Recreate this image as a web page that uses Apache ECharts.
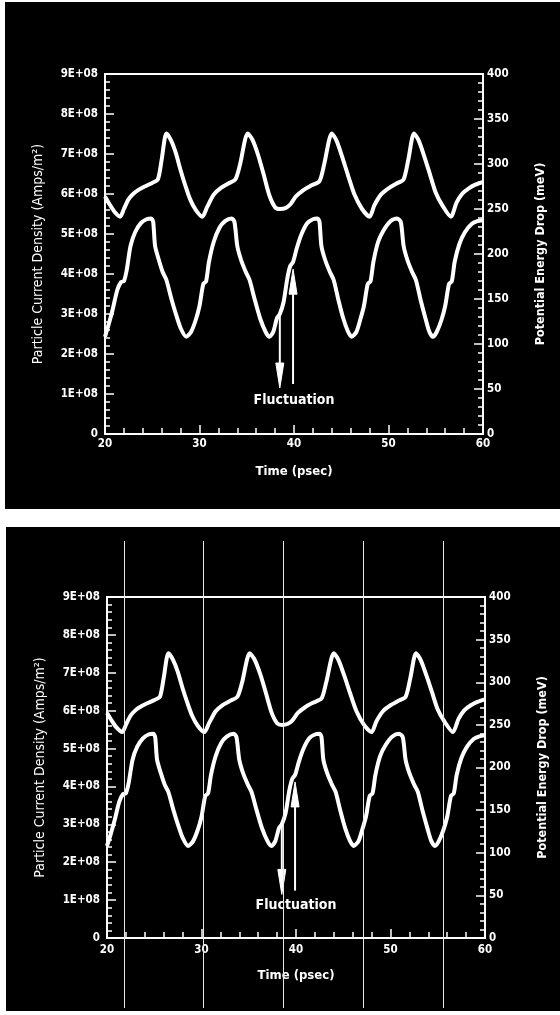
<!DOCTYPE html>
<html>
<head>
<meta charset="utf-8">
<script src="https://cdn.jsdelivr.net/npm/echarts@6/dist/echarts.min.js"></script>
<style>
  html, body { margin: 0; padding: 0; background: #fff; }
  #chart { width: 560px; height: 1015px; }
</style>
</head>
<body>
<div id="chart"></div>
<script>
// ---------------- data ----------------
const potentialTime = [20.0, 20.5, 21.0, 21.6, 22.0, 22.5, 23.0, 23.5, 24.2, 25.0, 25.6, 26.0, 26.5, 27.0, 27.5, 28.0, 28.5, 29.0, 29.6,
  30.3, 30.8, 31.5, 32.2, 33.0, 33.8, 34.3, 35.1, 35.6, 36.2, 36.8, 37.4, 38.0, 38.5, 39.1, 39.6,
  40.2, 41.0, 41.8, 42.7, 43.2, 44.0, 44.5, 45.1, 45.7, 46.4, 47.2, 48.0, 48.5, 49.2,
  50.0, 50.8, 51.6, 52.1, 52.7, 53.2, 53.8, 54.4, 55.0, 55.7, 56.6, 57.2, 57.8, 58.5, 59.2, 60.0];
const potentialMeV = [264, 255, 247, 241.5, 250, 261, 267, 271, 275, 279, 283, 305, 334, 326, 312, 293, 276, 261, 249,
  241.5, 252, 266, 273, 278, 283, 300, 334, 327, 310, 288, 265, 252, 250, 251, 255,
  264, 271, 276, 281, 300, 334, 326, 308, 288, 266, 250, 241.5, 254, 266,
  273, 278, 283, 305, 334, 326, 308, 288, 268, 254, 241.5, 257, 267, 273, 277, 280];

const currentTime = [20.0, 20.4, 20.8, 21.3, 21.7, 22.0, 22.3, 22.7, 23.2, 23.8, 24.4, 24.9, 25.1, 25.3, 25.7, 26.1, 26.5, 27.0, 27.5, 28.0, 28.6, 29.1, 29.6,
  30.0, 30.4, 30.7, 31.0, 31.5, 32.1, 32.7, 33.4, 33.7, 34.0, 34.4, 34.9, 35.3, 35.8, 36.4, 37.0, 37.4, 37.8, 38.2, 38.5, 38.9, 39.3, 39.6, 39.9,
  40.3, 40.8, 41.4, 42.0, 42.5, 42.7, 42.9, 43.3, 43.8, 44.2, 44.7, 45.2, 45.7, 46.1, 46.6, 47.0, 47.4, 47.8, 48.1, 48.4, 48.9, 49.5,
  50.2, 50.9, 51.3, 51.6, 52.0, 52.5, 52.9, 53.4, 53.9, 54.3, 54.7, 55.1, 55.6, 56.0, 56.4, 56.7, 57.0, 57.5, 58.1, 58.8, 59.4, 60.0];
const currentDensity = [2.43e8, 2.75e8, 3.1e8, 3.6e8, 3.8e8, 3.82e8, 4.1e8, 4.7e8, 5.05e8, 5.27e8, 5.37e8, 5.39e8, 5.3e8, 4.7e8, 4.35e8, 4.05e8, 3.85e8, 3.4e8, 3.0e8, 2.65e8, 2.43e8, 2.55e8, 2.85e8,
  3.2e8, 3.75e8, 3.82e8, 4.3e8, 4.8e8, 5.15e8, 5.32e8, 5.39e8, 5.3e8, 4.7e8, 4.35e8, 4.05e8, 3.85e8, 3.4e8, 2.9e8, 2.55e8, 2.43e8, 2.55e8, 2.9e8, 3.0e8, 3.3e8, 3.9e8, 4.2e8, 4.3e8,
  4.65e8, 5.0e8, 5.27e8, 5.37e8, 5.39e8, 5.3e8, 4.7e8, 4.35e8, 4.05e8, 3.85e8, 3.35e8, 2.9e8, 2.57e8, 2.43e8, 2.55e8, 2.85e8, 3.2e8, 3.75e8, 3.82e8, 4.3e8, 4.8e8, 5.1e8,
  5.32e8, 5.39e8, 5.3e8, 4.7e8, 4.35e8, 4.05e8, 3.85e8, 3.35e8, 2.9e8, 2.57e8, 2.43e8, 2.55e8, 2.85e8, 3.2e8, 3.75e8, 3.82e8, 4.3e8, 4.75e8, 5.05e8, 5.25e8, 5.32e8, 5.35e8];

const leftTickLabels = ['0', '1E+08', '2E+08', '3E+08', '4E+08', '5E+08', '6E+08', '7E+08', '8E+08', '9E+08'];
const rightTickLabels = ['0', '50', '100', '150', '200', '250', '300', '350', '400'];
const timeTickLabels = ['20', '30', '40', '50', '60'];

// annotation arrows: time, start value, end value (current-density units)
const arrowTimes = [38.5, 39.9];
const arrowFrom = [3.02e8, 1.25e8];
const arrowTo = [1.15e8, 4.12e8];
const annotationText = ['Fluctuation'];
const annotationTime = [40.0];
const annotationValue = [0.85e8];

// thin vertical marker lines of the lower panel (psec)
const markerTimes = [21.8, 30.2, 38.6, 47.1, 55.6];

// ---------------- chart ----------------
const FONT = "'DejaVu Sans Condensed', 'Liberation Sans Narrow', sans-serif";
const WHITE = '#ffffff';

const potentialData = potentialTime.map((t, i) => [t, potentialMeV[i]]);
const currentData = currentTime.map((t, i) => [t, currentDensity[i]]);
const arrowData = arrowTimes.map((t, i) => [t, arrowFrom[i], arrowTo[i]]);
const labelData = annotationTime.map((t, i) => [t, annotationValue[i], annotationText[i]]);

const grids = [
  { left: 105, top: 74, width: 378, height: 360 },
  { left: 107, top: 597, width: 378, height: 341 }
];

function xAxisFor(g, nameGap, labelMargin) {
  return {
    gridIndex: g, type: 'value', min: 20, max: 60, interval: 10,
    name: 'Time (psec)', nameLocation: 'middle', nameGap: nameGap,
    nameTextStyle: { color: WHITE, fontSize: 13, fontWeight: 'bold', fontFamily: FONT },
    axisLine: { show: true, onZero: false, lineStyle: { color: WHITE, width: 2 } },
    axisTick: { show: true, inside: true, length: 9, lineStyle: { color: WHITE, width: 1.5 } },
    minorTick: { show: true, splitNumber: 5, length: 6, lineStyle: { color: WHITE, width: 1.5 } },
    splitLine: { show: false },
    axisLabel: { color: WHITE, fontSize: 11.5, fontWeight: 'bold', fontFamily: FONT, margin: labelMargin,
      formatter: v => timeTickLabels[Math.round((v - 20) / 10)] }
  };
}
function leftAxisFor(g, nameGap) {
  return {
    gridIndex: g, type: 'value', position: 'left', min: 0, max: 9e8, interval: 1e8,
    name: 'Particle Current Density (Amps/m²)', nameLocation: 'middle', nameGap: nameGap, nameRotate: 90,
    nameTextStyle: { color: WHITE, fontSize: 14, fontWeight: 'normal', fontFamily: FONT },
    axisLine: { show: true, lineStyle: { color: WHITE, width: 2 } },
    axisTick: { show: true, inside: true, length: 9, lineStyle: { color: WHITE, width: 1.5 } },
    minorTick: { show: true, splitNumber: 5, length: 5, lineStyle: { color: WHITE, width: 1.5 } },
    splitLine: { show: false },
    axisLabel: { color: WHITE, fontSize: 11.5, fontWeight: 'bold', fontFamily: FONT, margin: 7,
      formatter: v => leftTickLabels[Math.round(v / 1e8)] }
  };
}
function rightAxisFor(g, nameGap) {
  return {
    gridIndex: g, type: 'value', position: 'right', min: 0, max: 400, interval: 50,
    name: 'Potential Energy Drop (meV)', nameLocation: 'middle', nameGap: nameGap, nameRotate: 90,
    nameTextStyle: { color: WHITE, fontSize: 12.5, fontWeight: 'bold', fontFamily: FONT },
    axisLine: { show: true, lineStyle: { color: WHITE, width: 2 } },
    axisTick: { show: true, inside: true, length: 9, lineStyle: { color: WHITE, width: 1.5 } },
    minorTick: { show: true, splitNumber: 5, length: 5, lineStyle: { color: WHITE, width: 1.5 } },
    splitLine: { show: false },
    axisLabel: { color: WHITE, fontSize: 11.5, fontWeight: 'bold', fontFamily: FONT, margin: 4,
      formatter: v => rightTickLabels[Math.round(v / 50)] }
  };
}

function arrowRender(params, api) {
  const x = api.value(0);
  const p0 = api.coord([x, api.value(1)]);
  const p1 = api.coord([x, api.value(2)]);
  const dir = p1[1] > p0[1] ? 1 : -1;
  const headLen = 25, headW = 4;
  const base = p1[1] - dir * headLen;
  return {
    type: 'group',
    children: [
      { type: 'line', shape: { x1: p0[0], y1: p0[1], x2: p1[0], y2: base }, style: { stroke: WHITE, lineWidth: 2 } },
      { type: 'polygon', shape: { points: [[p1[0], p1[1]], [p1[0] - headW, base], [p1[0] + headW, base]] },
        style: { fill: WHITE, stroke: WHITE, lineWidth: 1 } }
    ]
  };
}

function panelSeries(xi, yLeft, yRight) {
  return [
    { type: 'line', xAxisIndex: xi, yAxisIndex: yRight, data: potentialData, smooth: 0.25, showSymbol: false,
      lineStyle: { color: WHITE, width: 4 }, z: 3 },
    { type: 'line', xAxisIndex: xi, yAxisIndex: yLeft, data: currentData, smooth: 0.25, showSymbol: false,
      lineStyle: { color: WHITE, width: 4 }, z: 3 },
    { type: 'custom', xAxisIndex: xi, yAxisIndex: yLeft, data: arrowData, renderItem: arrowRender, z: 4, clip: false },
    { type: 'scatter', xAxisIndex: xi, yAxisIndex: yLeft, data: labelData, symbolSize: 0, z: 4,
      itemStyle: { opacity: 1 },
      label: { show: true, position: 'inside', formatter: p => p.value[2], color: WHITE, opacity: 1,
        fontSize: 14, fontWeight: 'bold', fontFamily: FONT } }
  ];
}

const option = {
  backgroundColor: '#ffffff',
  animation: false,
  graphic: {
    elements: [
      { type: 'rect', z: -10, shape: { x: 5, y: 2, width: 555, height: 507 }, style: { fill: '#000' } },
      { type: 'rect', z: -10, shape: { x: 6, y: 527, width: 554, height: 484 }, style: { fill: '#000' } }
    ]
  },
  grid: [
    Object.assign({ show: true, borderColor: WHITE, borderWidth: 2, backgroundColor: 'transparent' }, grids[0]),
    Object.assign({ show: true, borderColor: WHITE, borderWidth: 2, backgroundColor: 'transparent' }, grids[1]),
    { left: 107, top: 541, width: 378, height: 467, show: false }
  ],
  xAxis: [
    xAxisFor(0, 31, 4),
    xAxisFor(1, 31, 6),
    { gridIndex: 2, type: 'value', min: 20, max: 60, show: false }
  ],
  yAxis: [
    leftAxisFor(0, 60),
    rightAxisFor(0, 51),
    leftAxisFor(1, 60),
    rightAxisFor(1, 51),
    { gridIndex: 2, type: 'value', min: 0, max: 1, show: false }
  ],
  series: [
    ...panelSeries(0, 0, 1),
    ...panelSeries(1, 2, 3),
    { type: 'line', xAxisIndex: 2, yAxisIndex: 4, data: [], z: 5,
      markLine: { silent: true, symbol: ['none', 'none'], label: { show: false },
        lineStyle: { color: '#e8e8e8', width: 1, type: 'solid' },
        data: markerTimes.map(t => ({ xAxis: t })) } }
  ]
};

const chart = echarts.init(document.getElementById('chart'), null, { renderer: 'canvas' });
chart.setOption(option);
</script>
</body>
</html>
